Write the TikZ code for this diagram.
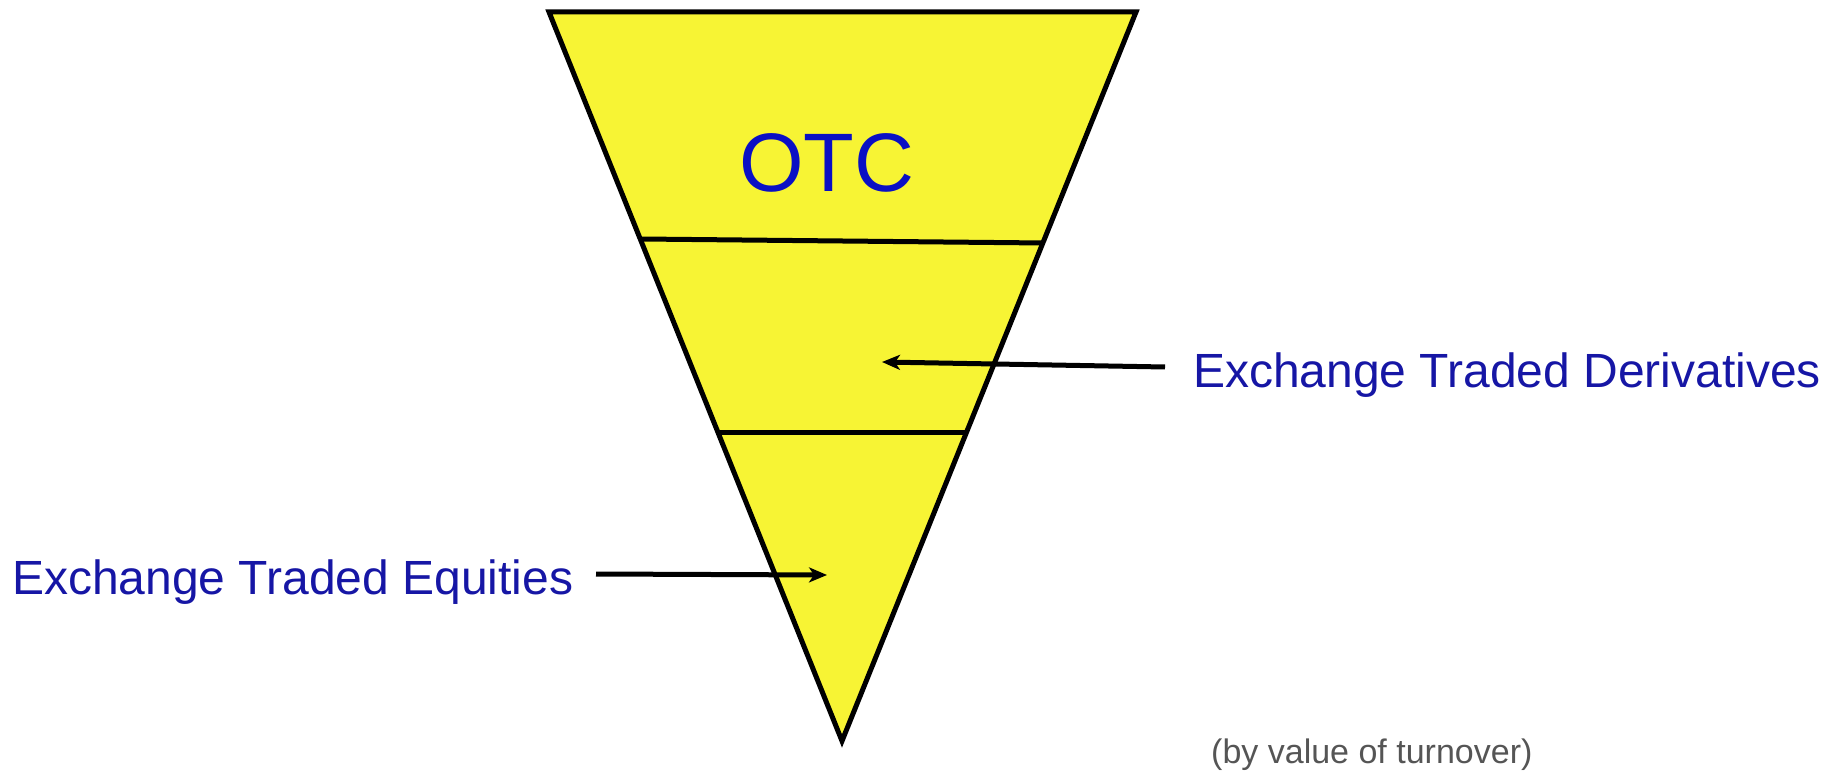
\documentclass[tikz,border=0pt]{standalone}
\usepackage{fontspec}
\setmainfont{Liberation Sans}
\usetikzlibrary{arrows.meta}

\definecolor{funnelyellow}{HTML}{F7F434}
\definecolor{otcblue}{HTML}{0A0FC4}
\definecolor{labelblue}{HTML}{1616A5}
\definecolor{notegray}{HTML}{555555}

\tikzset{
  marketlabel/.style={anchor=base west, inner sep=0pt, text=labelblue,
    font=\fontsize{48}{56}\selectfont},
  pointer/.style={line width=5pt, -{Stealth[length=18pt, width=15pt, inset=5pt]}},
}

\begin{document}
\begin{tikzpicture}[x=1pt, y=-1pt]
  \useasboundingbox (0,0) rectangle (1839,775);

  % Inverted triangle (funnel)
  \coordinate (topleft) at (549,12);
  \coordinate (topright) at (1136,12);
  \coordinate (tip) at (842,741);
  \filldraw[fill=funnelyellow, line width=5pt, line join=miter]
    (topleft) -- (topright) -- (tip) -- cycle;

  % Dividing lines
  \draw[line width=5pt] (641,239) -- (1044,243);
  \draw[line width=5pt] (718,432) -- (967,432);

  % Top section
  \node[anchor=base, inner sep=0pt, text=otcblue,
    font=\fontsize{83}{98}\selectfont] (otc) at (827,192) {OTC};

  % Middle section label and arrow
  \node[marketlabel] (derivatives) at (1193,388) {Exchange Traded Derivatives};
  \coordinate (derivstart) at (1165,367);
  \coordinate (derivend) at (882,362);
  \draw[pointer] (derivstart) -- (derivend);

  % Bottom section label and arrow
  \node[marketlabel] (equities) at (12,594) {Exchange Traded Equities};
  \coordinate (equitystart) at (596,574);
  \coordinate (equityend) at (827,575);
  \draw[pointer] (equitystart) -- (equityend);

  % Note
  \node[anchor=base west, inner sep=0pt, text=notegray,
    font=\fontsize{34}{40}\selectfont] (note) at (1211,763) {(by value of turnover)};
\end{tikzpicture}
\end{document}
